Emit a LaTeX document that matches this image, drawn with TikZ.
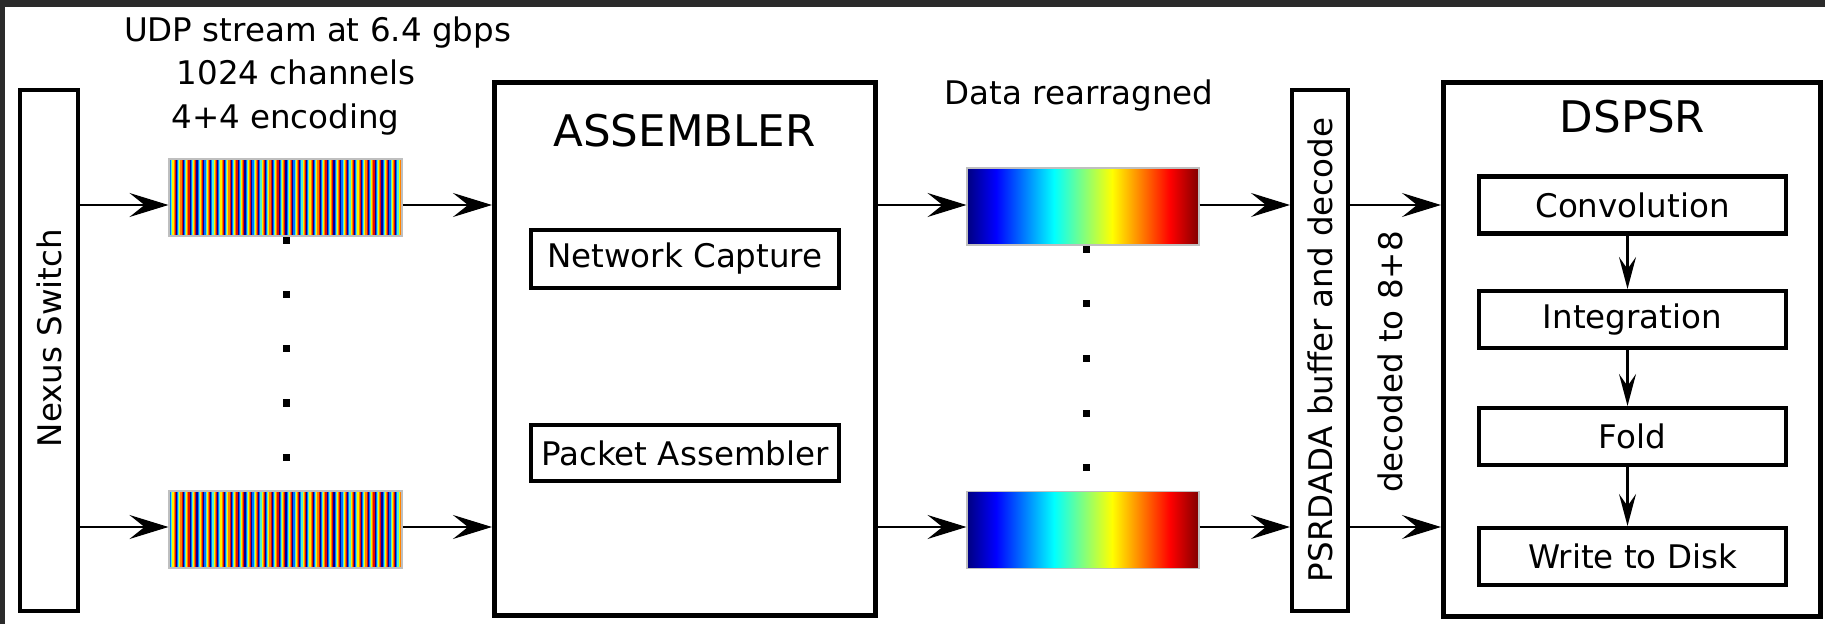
\documentclass[tikz,border=0pt]{standalone}
\usepackage{fontspec}
\setmainfont{DejaVu Sans}
\usetikzlibrary{arrows.meta}

\definecolor{screenbg}{HTML}{2B2B2B}
% jet colour map, spread over the middle 50bp as tikz expects
\pgfdeclarehorizontalshading{jet}{100bp}{%
  rgb(0bp)=(0,0,0.5); rgb(25bp)=(0,0,0.5); rgb(31.25bp)=(0,0,1);
  rgb(43.75bp)=(0,1,1); rgb(56.25bp)=(1,1,0); rgb(68.75bp)=(1,0,0);
  rgb(75bp)=(0.5,0,0); rgb(100bp)=(0.5,0,0)}
% stripe colours of the interleaved stream
\definecolor{jetnavy}{rgb}{0,0,0.6}
\definecolor{jetblue}{rgb}{0,0.45,1}
\definecolor{jetcyan}{rgb}{0.3,0.95,0.85}
\definecolor{jetyellow}{rgb}{1,0.95,0}
\definecolor{jetorange}{rgb}{1,0.5,0}
\definecolor{jetred}{rgb}{0.9,0.05,0}

\newcommand{\lblsize}{\fontsize{9.25}{11}\selectfont}
\newcommand{\ttlsize}{\fontsize{12.4}{15}\selectfont}

\begin{document}
\begin{tikzpicture}[>={Stealth[length=3.9mm, width=2.4mm, inset=1.5mm]}, font=\lblsize,
  flow/.style={->, line width=0.6pt},
  stepflow/.style={-{Stealth[length=3.2mm, width=1.7mm, inset=1.2mm]}, line width=0.6pt},
  bigbox/.style={draw, line width=1.45pt, inner sep=0pt},
  stage/.style={draw, line width=1.15pt, inner sep=0pt},
  title/.style={font=\ttlsize, anchor=base},
  dot/.style={fill, inner sep=0pt, minimum size=0.7mm},
  jetbar/.style={draw=gray!50, line width=0.3pt, shade, shading=jet, inner sep=0pt,
    minimum width=2.32cm, minimum height=7.7mm},
  udpbar/.style={draw=gray!50, line width=0.3pt, inner sep=0pt,
    minimum width=2.33cm, minimum height=7.7mm,
    path picture={
      \foreach \k in {0,...,33}
        \foreach \c [count=\j from 0] in {jetnavy,jetblue,jetcyan,jetyellow,jetorange,jetred}
          \fill[\c] ([xshift={(\k*6+\j)*0.1142mm}]path picture bounding box.south west)
            rectangle ++(0.16mm, 7.7mm);}},
]
  % window edge
  \fill[screenbg] (0,0) rectangle (18.25,-6.24);
  \fill[white] (0.05,-0.07) rectangle (18.25,-6.24);
  \useasboundingbox (0,0) rectangle (18.25,-6.24);

  \coordinate (rowA) at (0,-2.05);
  \coordinate (rowB) at (0,-5.27);

  % switch
  \node[stage, minimum width=5.8mm, minimum height=5.21cm] (nexus) at (0.49,-3.505) {};
  \node[rotate=90] (nexuslbl) at (0.49,-3.38) {Nexus Switch};

  % raw udp packets
  \node[anchor=base] (udpl1) at (3.175,-0.42) {UDP stream at 6.4 gbps};
  \node[anchor=base] (udpl2) at (2.96,-0.845) {1024 channels};
  \node[anchor=base] (udpl3) at (2.855,-1.29) {4+4 encoding};
  \node[udpbar] (udpA) at (2.855,-1.975) {};
  \node[udpbar] (udpB) at (2.855,-5.295) {};
  \foreach \y [count=\i] in {2.41,2.95,3.49,4.03,4.57}
    \node[dot] (dotA\i) at (2.86,-\y) {};

  % assembler
  \node[bigbox, minimum width=3.81cm, minimum height=5.33cm] (asm) at (6.85,-3.49) {};
  \node[title] (asmttl) at (6.845,-1.47) {ASSEMBLER};
  \node[stage, minimum width=3.08cm, minimum height=5.8mm] (netcap) at (6.85,-2.59) {Network Capture};
  \node[stage, minimum width=3.08cm, minimum height=5.6mm] (pktasm) at (6.85,-4.53) {Packet Assembler};

  % rearranged channels
  \node[anchor=base] (datalbl) at (10.79,-1.05) {Data rearragned};
  \node[jetbar] (gradA) at (10.83,-2.065) {};
  \node[jetbar] (gradB) at (10.83,-5.30) {};
  \foreach \y [count=\i] in {2.50,3.04,3.59,4.13,4.67}
    \node[dot] (dotB\i) at (10.86,-\y) {};

  % ring buffer
  \node[stage, minimum width=5.6mm, minimum height=5.21cm] (psrdada) at (13.20,-3.505) {};
  \node[rotate=90] (psrdadalbl) at (13.20,-3.50) {PSRDADA buffer and decode};
  \node[rotate=90] (decodelbl) at (13.90,-3.62) {decoded to 8+8};

  % dspsr pipeline
  \node[bigbox, minimum width=3.77cm, minimum height=5.34cm] (dspsr) at (16.32,-3.495) {};
  \node[title] (dspsrttl) at (16.325,-1.33) {DSPSR};
  \node[stage, minimum width=3.07cm, minimum height=5.7mm] (conv) at (16.325,-2.05) {Convolution};
  \node[stage, minimum width=3.07cm, minimum height=5.7mm] (integ) at (16.325,-3.195) {Integration};
  \node[stage, minimum width=3.07cm, minimum height=5.7mm] (fold) at (16.325,-4.365) {Fold};
  \node[stage, minimum width=3.07cm, minimum height=5.7mm] (disk) at (16.325,-5.565) {Write to Disk};

  \foreach \u/\g/\r in {udpA/gradA/rowA, udpB/gradB/rowB} {
    \draw[flow] (nexus.east |- \r) -- (\u.west |- \r);
    \draw[flow] (\u.east |- \r) -- (asm.west |- \r);
    \draw[flow] (asm.east |- \r) -- (\g.west |- \r);
    \draw[flow] (\g.east |- \r) -- (psrdada.west |- \r);
    \draw[flow] (psrdada.east |- \r) -- (dspsr.west |- \r);
  }

  \foreach \a/\b in {conv/integ, integ/fold, fold/disk}
    \draw[stepflow] ([xshift=-0.5mm]\a.south) -- ([xshift=-0.5mm]\b.north);
\end{tikzpicture}
\end{document}
